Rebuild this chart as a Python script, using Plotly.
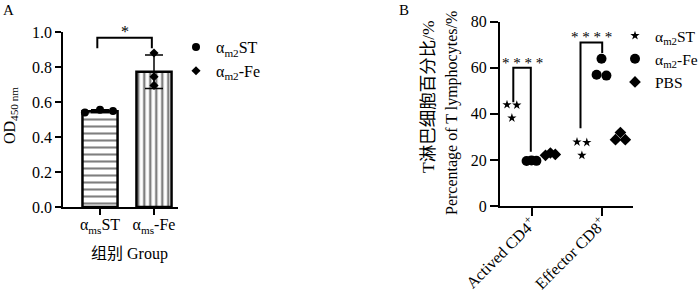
import numpy as np
import plotly.graph_objects as go

W, H = 700, 291
SERIF = "Liberation Serif, Times New Roman, Noto Sans CJK SC, serif"

# ---------------- Panel A data ----------------
groups_A = ["α<sub>ms</sub>ST", "α<sub>ms</sub>-Fe"]
legend_A = ["α<sub>m2</sub>ST", "α<sub>m2</sub>-Fe"]
od_st = [0.540, 0.555, 0.548]
od_fe = [0.880, 0.745, 0.695]
yticks_A = [0.0, 0.2, 0.4, 0.6, 0.8, 1.0]
sig_A = {"x0": -0.05, "x1": 0.96, "top": 0.967, "leg0": 0.907, "leg1": 0.907, "label": "*"}

# ---------------- Panel B data ----------------
cell_types = ["Actived CD4<sup>+</sup>", "Effector CD8<sup>+</sup>"]
legend_B = ["α<sub>m2</sub>ST", "α<sub>m2</sub>-Fe", "PBS"]
st_cd4 = [44.0, 38.2, 43.8]
st_cd8 = [27.8, 22.0, 27.6]
fe_cd4 = [19.5, 19.8, 19.6]
fe_cd8 = [57.0, 63.9, 56.6]
pbs_cd4 = [22.0, 23.0, 22.4]
pbs_cd8 = [28.8, 31.9, 28.8]
yticks_B = [0, 20, 40, 60, 80]
sig_B = [
    {"x0": -0.26, "x1": -0.01, "top": 60.0, "leg0": 45.0, "leg1": 23.6, "label": "* * * *"},
    {"x0": 0.70, "x1": 1.01, "top": 71.0, "leg0": 33.8, "leg1": 66.4, "label": "* * * *"},
]

# ---------------- layout helpers ----------------
def px_x(p):
    return p / W

def px_y(p):
    return (H - p) / H

fig = go.Figure()

# Panel A bars
bar_means = [float(np.mean(od_st)), float(np.mean(od_fe))]
bar_sds = [float(np.std(od_st, ddof=1)), float(np.std(od_fe, ddof=1))]
pat_shape = ["-", "|"]
pat_size = [7, 6]
pat_solid = [0.3, 0.4]
for i in range(2):
    fig.add_trace(go.Bar(
        x=[i], y=[bar_means[i]], width=0.65,
        marker=dict(color="white", line=dict(color="black", width=2.5),
                    pattern=dict(shape=pat_shape[i], fgcolor="black", bgcolor="white",
                                 size=pat_size[i], solidity=pat_solid[i])),
        error_y=dict(type="data", array=[bar_sds[i]], color="black", thickness=1.5, width=9),
        showlegend=False, xaxis="x", yaxis="y", hoverinfo="skip"))

jit_A = [[-0.28, 0.0, 0.24], [0.0, 0.0, 0.0]]
sym_A = ["circle", "diamond"]
size_A = [8, 7]
for i, vals in enumerate([od_st, od_fe]):
    fig.add_trace(go.Scatter(
        x=[i + j for j in jit_A[i]], y=vals, mode="markers",
        marker=dict(symbol=sym_A[i], size=size_A[i], color="black"),
        name=legend_A[i], legend="legend", xaxis="x", yaxis="y"))

# Panel B points
offsets = [-0.28, 0.0, 0.27]
jit = [-0.07, 0.0, 0.07]
sym_B = ["star", "circle", "diamond"]
size_B = [7, 10, 9]
series_B = [(st_cd4, st_cd8), (fe_cd4, fe_cd8), (pbs_cd4, pbs_cd8)]
for g, (v4, v8) in enumerate(series_B):
    xs, ys = [], []
    for c, vals in enumerate([v4, v8]):
        xs += [c + offsets[g] + j for j in jit]
        ys += list(vals)
    fig.add_trace(go.Scatter(
        x=xs, y=ys, mode="markers",
        marker=dict(symbol=sym_B[g], size=size_B[g], color="black"),
        name=legend_B[g], legend="legend2", xaxis="x2", yaxis="y2"))

shapes = []
annotations = []

def bracket(s, xr, yr, fs, dy):
    pts = [(s["x0"], s["leg0"]), (s["x0"], s["top"]), (s["x1"], s["top"]), (s["x1"], s["leg1"])]
    path = "M " + " L ".join(f"{x},{y}" for x, y in pts)
    shapes.append(dict(type="path", path=path, xref=xr, yref=yr,
                       line=dict(color="black", width=2)))
    annotations.append(dict(x=(s["x0"] + s["x1"]) / 2, y=s["top"], xref=xr, yref=yr,
                            text=s["label"], showarrow=False, xanchor="center",
                            yanchor="bottom", yshift=dy,
                            font=dict(family=SERIF, size=fs, color="black")))

bracket(sig_A, "x", "y", 16, -4)
for s in sig_B:
    bracket(s, "x2", "y2", 15, -5)

def label(x, y, text, size=16, angle=0):
    return dict(x=px_x(x), y=px_y(y), xref="paper", yref="paper", text=text,
                showarrow=False, xanchor="center", yanchor="middle", textangle=angle,
                font=dict(family=SERIF, size=size, color="black"))

annotations += [
    label(8, 10, "A", 15),
    label(404, 10, "B", 15),
    label(10, 116, "OD<sub>450 nm</sub>", 16, -90),
    label(129, 254, "组别 Group", 16),
    label(428, 97, "T淋巴细胞百分比/%", 17.5, -90),
    label(452, 113, "Percentage of T lymphocytes/%", 16, -90),
]

def axis(ticklen, **kw):
    d = dict(showline=True, linecolor="black", linewidth=2, ticks="outside",
             ticklen=ticklen, tickwidth=2, tickcolor="black", showgrid=False, zeroline=False,
             automargin=False, tickfont=dict(family=SERIF, size=16, color="black"),
             fixedrange=True)
    d.update(kw)
    return d

fig.update_layout(
    width=W, height=H, margin=dict(l=0, r=0, t=0, b=0, autoexpand=False),
    paper_bgcolor="white", plot_bgcolor="white",
    showlegend=True,
    xaxis=axis(6, domain=[px_x(63.3), px_x(178.3)], range=[-0.68, 1.45], tickvals=[0, 1],
               ticktext=groups_A, anchor="y", ticklabelstandoff=-4),
    yaxis=axis(6, domain=[px_y(207), px_y(32)], range=[0, 1], tickvals=yticks_A,
               tickformat=".1f", anchor="x"),
    xaxis2=axis(8, domain=[px_x(500), px_x(633)], range=[-0.45, 1.45], tickvals=[0, 1],
                ticktext=cell_types, tickangle=-45, anchor="y2", ticklabelstandoff=-8),
    yaxis2=axis(8, domain=[px_y(206), px_y(21.7)], range=[0, 80], tickvals=yticks_B,
                anchor="x2"),
    legend=dict(x=px_x(176), y=px_y(30), xanchor="left", yanchor="top",
                font=dict(family=SERIF, size=16, color="black"), bgcolor="rgba(0,0,0,0)",
                itemwidth=30, tracegroupgap=0),
    legend2=dict(x=px_x(615), y=px_y(19), xanchor="left", yanchor="top",
                 font=dict(family=SERIF, size=15.5, color="black"), bgcolor="rgba(0,0,0,0)",
                 itemwidth=30, tracegroupgap=0),
    shapes=shapes, annotations=annotations,
    bargap=0.3,
)

fig.write_html("out.html")
